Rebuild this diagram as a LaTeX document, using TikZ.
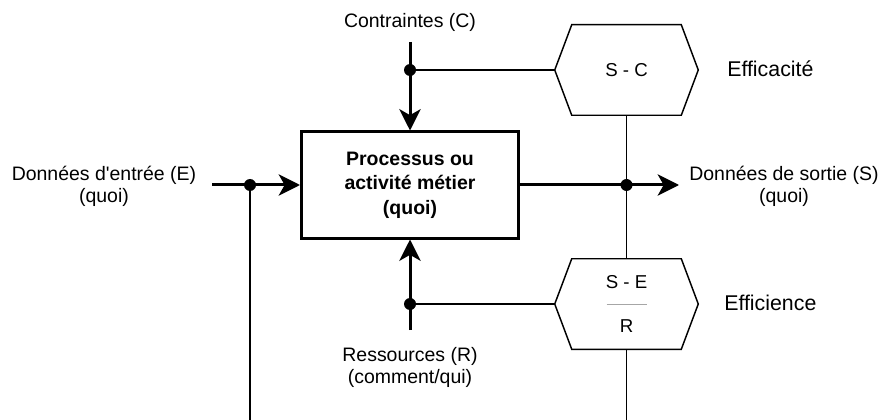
\documentclass[tikz,border=0pt]{standalone}
\usepackage{fontspec}
\setmainfont{Liberation Sans}
\usetikzlibrary{arrows.meta}

\tikzset{
  flow/.style={line width=2.25pt, -{Stealth[length=16pt,width=16pt,inset=4.5pt]}},
  link/.style={line width=1.1pt},
  dot/.style={circle, fill, inner sep=0pt, minimum size=9pt},
  hexbox/.style={minimum width=107.25pt, minimum height=67.5pt, inner sep=0pt, align=center, font=\fontsize{14}{16.5}\selectfont},
  txt/.style={font=\fontsize{14.6}{16.5}\selectfont, align=center, inner sep=0pt},
  measure/.style={font=\fontsize{16}{18}\selectfont, anchor=west, inner sep=0pt},
}

\begin{document}
\begin{tikzpicture}[x=0.75pt,y=0.75pt,yscale=-1,xscale=1]
    \useasboundingbox (0,0) rectangle (887,420);

    % Process box
    \node[draw, line width=2.25pt, minimum width=162.75pt, minimum height=79.5pt, align=center, font=\bfseries\fontsize{14.6}{18.5}\selectfont] (proc) at (410,185) {Processus ou\\activité métier\\(quoi)};

    % Hexagons
    \node[hexbox] (sc) at (626.5,70) {S - C};
    \node[hexbox] (se) at (626.5,304) {S - E\\\textcolor{gray!70}{\rule[0.3em]{30pt}{1pt}}\\R};
    \foreach \h in {sc,se}
      \draw[link] (\h.west) -- ([xshift=12.75pt]\h.north west) -- ([xshift=-12.75pt]\h.north east) -- (\h.east) -- ([xshift=-12.75pt]\h.south east) -- ([xshift=12.75pt]\h.south west) -- cycle;

    % Text Node
    \node[txt] (contr) at (410,22) {Contraintes (C)};
    % Text Node
    \node[txt] (inp) at (104,186) {Données d\textquotesingle entrée (E)\\(quoi)};
    % Text Node
    \node[txt] (outp) at (784,186) {Données de sortie (S)\\(quoi)};
    % Text Node
    \node[txt] (res) at (410,367) {Ressources (R)\\(comment/qui)};
    % Text Node
    \node[measure] (effc) at (727,69) {Efficacité};
    % Text Node
    \node[measure] (effe) at (724,303) {Efficience};

    % Free ends and junctions
    \coordinate (cin) at (410,42);
    \coordinate (rin) at (410,330);
    \coordinate (ein) at (212,185);
    \coordinate (sout) at (679,185);
    \coordinate (eb) at (250,420);
    \coordinate (sb) at (626.5,420);
    \node[dot] (jc) at (410,70) {};
    \node[dot] (jr) at (410,304) {};
    \node[dot] (je) at (250,185) {};
    \node[dot] (js) at (626.5,185) {};

    % Flows
    \draw[flow] (cin) -- (proc);
    \draw[flow] (rin) -- (proc);
    \draw[flow] (ein) -- (proc);
    \draw[flow] (proc) -- (sout);

    % Measures
    \draw[link] (jc) -- (sc.west);
    \draw[link] (jr) -- (se.west);
    \draw[link] (je) -- (eb);
    \draw[link] (sc.south) -- (se.north);
    \draw[link] (se.south) -- (sb);
\end{tikzpicture}
\end{document}
